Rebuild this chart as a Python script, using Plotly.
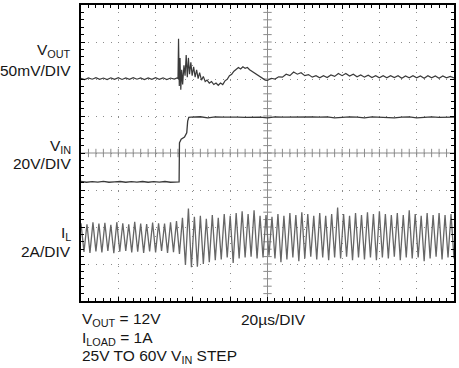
import plotly.graph_objects as go
import numpy as np

# ---------------- data (read from the scope capture) ----------------
# time axis: 20 us/div, 10 divisions
# VOUT deviation from 12V (mV), 50mV/div
vout_t = [0, 2, 4, 6, 8, 10, 12, 14, 16, 18, 20, 22, 24, 26, 28, 30, 32, 34, 36, 38, 40, 42, 44, 46, 48, 50,
          51.5, 52.0, 52.3, 52.7, 53.1, 53.5, 54.0, 54.5, 55.2, 55.8, 56.4, 57.0, 57.6, 58.2, 58.9, 59.6,
          60.4, 61.2, 62.0, 62.8, 63.6, 64.6, 65.6, 66.6, 67.6, 68.8, 70.0, 71.2, 72.4, 73.6, 74.8, 76.0,
          77.2, 78.4, 79.6, 80.8, 82.0, 83.2, 84.4, 85.6, 86.8, 88.0, 89.2, 90.4, 91.6, 92.8, 94.0, 95.2,
          96.4, 97.6, 98.8,
          100, 102, 104, 106, 108, 110, 112, 114, 116, 118, 120, 122, 124, 126, 128, 130, 132, 134, 136, 138,
          140, 142, 144, 146, 148, 150, 152, 154, 156, 158, 160, 162, 164, 166, 168, 170, 172, 174, 176, 178,
          180, 182, 184, 186, 188, 190, 192, 194, 196, 198, 200]
vout_mv = [0.5, -1.2, 1.0, -0.8, 1.3, -1.0, 0.8, -1.3, 1.1, -0.9, 1.2, -1.1, 0.9, -1.0, 1.3, -0.8, 1.0, -1.2,
           0.9, -1.0, 1.2, -0.9, 1.1, -1.2, 0.8, -0.5,
           1.0, 0.0, 54, -10, 28, -15, 12, -8, 18, 4, 32, 2, 28, 6, 22, 4,
           16, 2, 12, 0, 8, -2, 3, -4, -2, -6, -4, -8, -6, -9, -6, -8,
           -3, -1, 4, 6, 10, 12, 15, 13, 16, 14, 15, 12, 10, 7, 6, 3,
           2, -1, -2,
           -2.5, 0.5, -0.5, 2.5, 2.0, 6.0, 4.0, 9.0, 6.0, 8.0, 4.0, 5.5, 2.0, 4.0, 1.0, 4.0, 1.5, 5.0, 3.0, 7.0,
           4.0, 7.0, 3.5, 6.0, 2.5, 5.0, 2.0, 4.5, 1.5, 4.0, 1.0, 4.0, 1.0, 4.0, 1.5, 4.0, 0.5, 3.5, 1.0, 4.0,
           1.0, 3.5, 0.5, 4.0, 1.0, 3.5, 0.5, 3.5, 1.0, 3.0, 1.0]

# VIN (V), 20V/div
vin_t = [0, 3, 6, 9, 12, 15, 18, 21, 24, 27, 30, 33, 36, 39, 42, 45, 48, 51, 52.6,
         52.8, 53.7, 55.5, 56.7, 57.2, 57.8, 59,
         64, 68, 72, 76, 80, 84, 88, 92, 96, 100, 104, 108, 112, 116, 120, 124, 128, 132, 136,
         140, 144, 148, 152, 156, 160, 164, 168, 172, 176, 180, 184, 188, 192, 196, 200]
vin_v = [25.2, 24.8, 25.1, 24.9, 25.3, 24.8, 25.0, 25.2, 24.8, 25.1, 24.9, 25.2, 24.8, 25.1, 24.9, 25.2, 24.8, 25.0, 25.0,
         46.1, 48.1, 49.2, 51.5, 57.8, 59.9, 60.0,
         60.2, 59.6, 60.1, 60.0, 60.2, 60.0, 59.9, 60.1, 60.0, 59.6, 60.1, 60.0, 60.1, 60.0, 59.9, 60.1, 60.0, 60.1, 59.6,
         60.0, 60.1, 60.0, 59.6, 60.1, 60.0, 60.1, 59.6, 60.0, 60.1, 59.6, 60.0, 60.1, 59.9, 60.1, 60.0]

# inductor current IL (A), 2A/div, vertices of the triangle ripple
il_t = [0.0, 1.6, 3.2, 4.8, 6.4, 8.0, 9.6, 11.2, 12.8, 14.4, 16.0, 17.6, 19.2, 20.8, 22.4, 24.0, 25.6, 27.2,
        28.8, 30.4, 32.0, 33.6, 35.2, 36.8, 38.4, 40.0, 41.6, 43.2, 44.8, 46.4, 48.0, 49.6, 51.2, 52.8,
        54.4, 56.0, 57.6, 59.2, 60.8, 62.4, 64.0, 65.6, 67.2, 68.8, 70.4, 72.0, 73.6, 75.2, 76.8, 78.4,
        80.0, 81.6, 83.2, 84.8, 86.4, 88.0, 89.6, 91.2, 92.8, 94.4, 96.0, 97.6, 99.2, 100.8, 102.4, 104.0,
        105.6, 107.2, 108.8, 110.4, 112.0, 113.6, 115.2, 116.8, 118.4, 120.0, 121.6, 123.2, 124.8, 126.4,
        128.0, 129.6, 131.2, 132.8, 134.4, 136.0, 137.6, 139.2, 140.8, 142.4, 144.0, 145.6, 147.2, 148.8,
        150.4, 152.0, 153.6, 155.2, 156.8, 158.4, 160.0, 161.6, 163.2, 164.8, 166.4, 168.0, 169.6, 171.2,
        172.8, 174.4, 176.0, 177.6, 179.2, 180.8, 182.4, 184.0, 185.6, 187.2, 188.8, 190.4, 192.0, 193.6,
        195.2, 196.8, 198.4, 200.0]
il_a = [1.80, 0.25, 1.75, 0.20, 1.85, 0.28, 1.78, 0.22, 1.82, 0.30, 1.72, 0.18, 1.86, 0.26, 1.80, 0.30,
        1.74, 0.22, 1.88, 0.26, 1.78, 0.20, 1.76, 0.28, 1.84, 0.22, 1.80, 0.30, 1.78, 0.20, 1.86, 0.24,
        1.92, 0.15, 2.10, -0.45, 2.60, -0.57, 2.15, -0.55, 2.20, -0.40, 2.05, -0.30, 2.25, -0.20,
        2.10, -0.15, 2.30, -0.05, 2.20, -0.35, 2.35, -0.10, 2.45, -0.05, 2.30, 0.00, 2.50, -0.10,
        2.20, -0.05, 2.25, 0.05, 2.15, -0.10, 2.30, -0.30, 2.20, -0.15, 2.35, -0.05, 2.25, -0.25,
        2.40, -0.10, 2.30, 0.00, 2.20, -0.15, 2.35, -0.05, 2.20, -0.20, 2.30, -0.05, 2.65, -0.10,
        2.30, 0.00, 2.20, -0.20, 2.35, -0.05, 2.25, -0.15, 2.40, -0.05, 2.30, -0.20, 2.45, -0.05,
        2.30, -0.10, 2.25, 0.00, 2.35, -0.20, 2.25, -0.05, 2.50, -0.10, 2.30, -0.05, 2.20, -0.25,
        2.35, -0.10, 2.25, 0.00, 2.35, -0.15, 2.25, -0.05, 2.30, -0.10]

# channel scales (units per division) and screen positions (divisions from bottom)
VOUT_SCALE, VOUT_POS = 50.0, 6.01
VIN_SCALE, VIN_POS = 20.0, 1.97
IL_SCALE, IL_POS = 2.0, 1.2

left_labels = [("V<sub>OUT</sub>", 0.845), ("50mV/DIV", 0.78),
               ("V<sub>IN</sub>", 0.522), ("20V/DIV", 0.465),
               ("I<sub>L</sub>", 0.229), ("2A/DIV", 0.168)]
bottom_labels = ["V<sub>OUT</sub> = 12V", "I<sub>LOAD</sub> = 1A", "25V TO 60V V<sub>IN</sub> STEP"]
timebase_label = "20µs/DIV"

# ---------------- figure ----------------
FONT = "Liberation Sans, Arial, sans-serif"
FS = 15.5
TXT = "#161616"
TRACE = "#3a3a3a"
GRID = "#8c8c8c"

fig = go.Figure()

# centre cross with 1/5-division ticks
fig.add_shape(type="line", x0=100, x1=100, y0=0, y1=8, xref="x", yref="y",
              line=dict(color=GRID, width=1), layer="below")
fig.add_shape(type="line", x0=0, x1=200, y0=4, y1=4, xref="x", yref="y",
              line=dict(color=GRID, width=1), layer="below")
tick_x = np.arange(4, 200, 4)
tick_y = np.arange(0.2, 8, 0.2)
fig.add_trace(go.Scatter(x=tick_x, y=[4] * len(tick_x), mode="markers",
                         marker=dict(symbol="line-ns", size=6, line=dict(color=GRID, width=1)),
                         hoverinfo="skip"))
fig.add_trace(go.Scatter(x=[100] * len(tick_y), y=tick_y, mode="markers",
                         marker=dict(symbol="line-ew", size=6, line=dict(color=GRID, width=1)),
                         hoverinfo="skip"))

# traces
fig.add_trace(go.Scatter(x=il_t, y=[v / IL_SCALE + IL_POS for v in il_a], mode="lines",
                         line=dict(color="#666666", width=1.3)))
fig.add_trace(go.Scatter(x=vin_t, y=[v / VIN_SCALE + VIN_POS for v in vin_v], mode="lines",
                         line=dict(color=TRACE, width=1.3)))
fig.add_trace(go.Scatter(x=vout_t, y=[v / VOUT_SCALE + VOUT_POS for v in vout_mv], mode="lines",
                         line=dict(color=TRACE, width=1.2)))

axis_common = dict(showline=True, linecolor="#000", linewidth=2, mirror="ticks",
                   showgrid=True, gridcolor=GRID, gridwidth=1, griddash="1px,6.45px",
                   zeroline=False, showticklabels=False, ticks="inside", ticklen=4,
                   tickcolor="#000", tickwidth=1)
fig.update_xaxes(range=[0, 200], dtick=20, tick0=0,
                 minor=dict(dtick=4, ticks="inside", ticklen=3, tickcolor="#000", showgrid=False),
                 **axis_common)
fig.update_yaxes(range=[0, 8], dtick=1, tick0=0,
                 minor=dict(dtick=0.2, ticks="inside", ticklen=3, tickcolor="#000", showgrid=False),
                 **axis_common)

annos = []
for txt, yp in left_labels:
    annos.append(dict(text=txt, x=-0.022, y=yp, xref="paper", yref="paper",
                      xanchor="right", yanchor="middle", showarrow=False, align="right",
                      font=dict(family=FONT, size=FS, color=TXT)))
for i, txt in enumerate(bottom_labels):
    annos.append(dict(text=txt, x=-0.003, y=[-0.062, -0.126, -0.186][i], xref="paper", yref="paper",
                      xanchor="left", yanchor="middle", showarrow=False, align="left",
                      font=dict(family=FONT, size=FS, color=TXT)))
annos.append(dict(text=timebase_label, x=0.424, y=-0.062, xref="paper", yref="paper",
                  xanchor="left", yanchor="middle", showarrow=False,
                  font=dict(family=FONT, size=FS, color=TXT)))

fig.update_layout(width=459, height=368, margin=dict(l=81, r=3, t=3, b=67),
                  paper_bgcolor="white", plot_bgcolor="white", showlegend=False,
                  hovermode=False, annotations=annos)

fig.write_html("out.html", config={"displayModeBar": False},
               post_script="document.body.style.margin='0';document.body.style.padding='0';")
